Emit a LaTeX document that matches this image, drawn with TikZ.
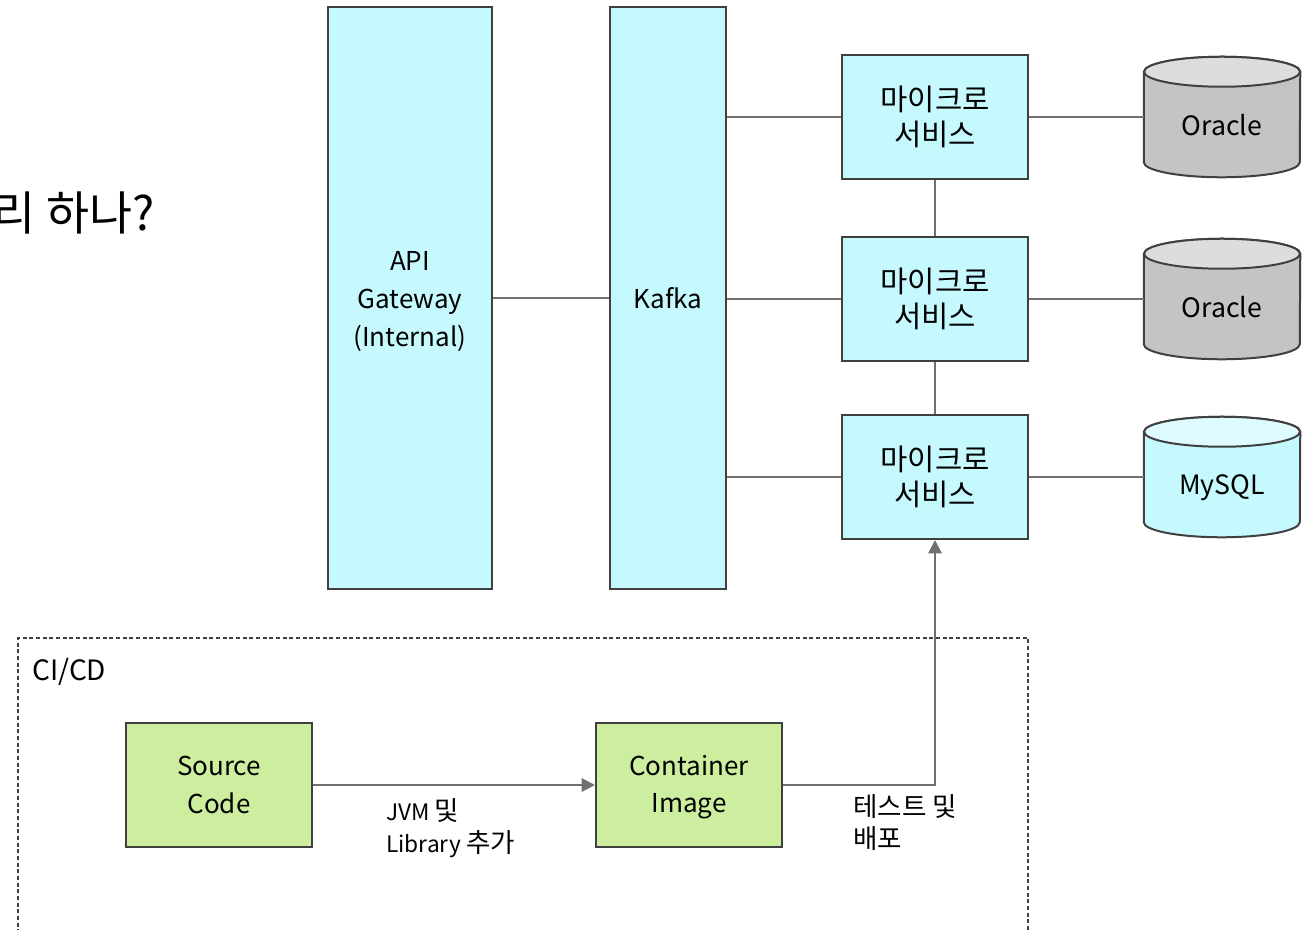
\documentclass[tikz,border=0pt]{standalone}
\usepackage{fontspec}
\setmainfont{Noto Sans CJK KR}
\newfontfamily\kr[Scale=1.17]{Noto Sans CJK KR}
\usetikzlibrary{arrows.meta}
\definecolor{cyanfill}{HTML}{C5F9FD}
\definecolor{cyantop}{HTML}{DEFCFF}
\definecolor{greenfill}{HTML}{CCEE9E}
\definecolor{dbgray}{HTML}{C4C4C4}
\definecolor{dbtop}{HTML}{DDDDDD}
\definecolor{bordercol}{HTML}{404040}
\definecolor{linecol}{HTML}{707070}
\tikzset{
  box/.style={draw=bordercol, line width=1.5pt, align=center, inner sep=0pt,
    font=\fontsize{19}{26.5}\selectfont},
  bigbox/.style={box, fill=cyanfill, minimum width=123pt, minimum height=436.5pt, font=\fontsize{19.5}{28.5}\selectfont},
  msbox/.style={box, fill=cyanfill, minimum width=139.5pt, minimum height=93pt},
  cibox/.style={box, fill=greenfill, minimum width=139.5pt, minimum height=93pt, font=\fontsize{19.5}{28}\selectfont},
  boxtext/.style={align=center, inner sep=0pt, font=\fontsize{19.5}{28.5}\selectfont},
  dbnode/.style={minimum width=117pt, minimum height=90pt, inner sep=0pt},
  dbtext/.style={font=\fontsize{20}{24}\selectfont, inner sep=0pt},
  conn/.style={draw=linecol, line width=1.5pt},
  arr/.style={conn, -{Triangle[width=10pt,length=10pt]}, color=linecol},
  dbline/.style={draw=bordercol, line width=1.5pt},
  lbl/.style={align=left, anchor=north west, inner sep=0pt, font=\fontsize{17}{24.5}\selectfont},
}
\newcommand{\drawcyl}[3]{%
  \draw[dbline, fill=#2] ([yshift=-11.25pt]#1.north west) -- ([yshift=11.25pt]#1.south west)
    arc[start angle=180, end angle=360, x radius=58.5pt, y radius=11.25pt]
    -- ([yshift=-11.25pt]#1.north east)
    arc[start angle=0, end angle=180, x radius=58.5pt, y radius=11.25pt] -- cycle;
  \draw[dbline, fill=#3] ([yshift=-11.25pt]#1.north) ellipse[x radius=58.5pt, y radius=11.25pt];
}
\begin{document}
\begin{tikzpicture}[x=0.75pt,y=-0.75pt]
\useasboundingbox (0,0) rectangle (1309,929);
\clip (0,0) rectangle (1309,929);
% title fragment
\node[anchor=base east, inner sep=0pt, font=\fontsize{30}{34}\selectfont] (title) at (155,230) {\kr 리 하나?};
% dashed CI/CD frame
\draw[draw=bordercol, line width=1pt, dash pattern=on 3pt off 2pt] (18,960) -- (18,638) -- (1028,638) -- (1028,960);
\node[anchor=base west, inner sep=0pt, font=\fontsize{21}{24}\selectfont] (cicd) at (32,680) {CI/CD};
% main boxes
\node[bigbox] (gw) at (410,298) {};
\node[boxtext] (gwt) at ([yshift=-3pt]gw.center) {API\\Gateway\\(Internal)};
\node[bigbox, minimum width=87pt] (kafka) at (668,298) {Kafka};
\node[msbox] (ms1) at (935,117) {\kr 마이크로\\\kr 서비스};
\node[msbox] (ms2) at (935,299) {\kr 마이크로\\\kr 서비스};
\node[msbox] (ms3) at (935,477) {\kr 마이크로\\\kr 서비스};
% databases
\node[dbnode] (db1) at (1222,117) {};
\node[dbnode] (db2) at (1222,299) {};
\node[dbnode] (db3) at (1222,477) {};
\drawcyl{db1}{dbgray}{dbtop}
\drawcyl{db2}{dbgray}{dbtop}
\drawcyl{db3}{cyanfill}{cyantop}
\node[dbtext] (db1t) at ([yshift=-6pt]db1.center) {Oracle};
\node[dbtext] (db2t) at ([yshift=-6pt]db2.center) {Oracle};
\node[dbtext] (db3t) at ([yshift=-8pt]db3.center) {MySQL};
% CI boxes
\node[cibox] (src) at (219,785) {Source\\Code};
\node[cibox] (img) at (689,785) {};
\node[boxtext, font=\fontsize{19.5}{28}\selectfont] (imgt) at ([yshift=-1.5pt]img.center) {Container\\Image};
% connectors
\draw[conn] (gw.east) -- (kafka.west);
\draw[conn] (kafka.east |- ms1.west) -- (ms1.west);
\draw[conn] (kafka.east |- ms2.west) -- (ms2.west);
\draw[conn] (kafka.east |- ms3.west) -- (ms3.west);
\draw[conn] (ms1.east) -- (db1.west);
\draw[conn] (ms2.east) -- (db2.west);
\draw[conn] (ms3.east) -- (db3.west);
\draw[conn] (ms1.south) -- (ms2.north);
\draw[conn] (ms2.south) -- (ms3.north);
\draw[arr] (src.east) -- (img.west);
\draw[arr] (img.east) -- (ms3.south |- img.east) -- (ms3.south);
% labels
\node[lbl] (l1) at (386,798) {JVM {\kr 및}\\Library {\kr 추가}};
\node[lbl] (l2) at (853,794) {\kr 테스트 및\\\kr 배포};
\end{tikzpicture}
\end{document}
